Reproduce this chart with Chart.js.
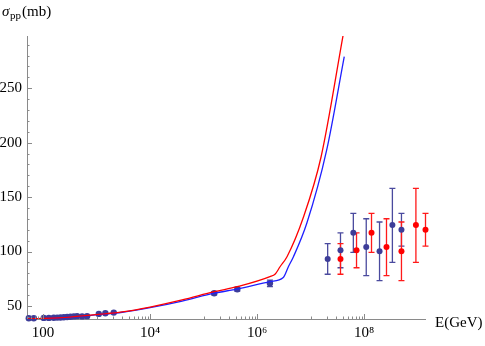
<!DOCTYPE html>
<html><head><meta charset="utf-8">
<script src="https://cdn.jsdelivr.net/npm/chart.js@4/dist/chart.umd.min.js"></script>
<style>html,body{margin:0;padding:0;background:#fff}#wrap{width:485px;height:346px}</style>
</head><body><div id="wrap"><canvas id="c" width="485" height="346"></canvas></div>
<script>
// Model curves (E in GeV, sigma in mb)
const redCurveE     = [50, 100, 316, 1072, 3020, 1.0e4, 3.98e4, 1.58e5, 4.27e5, 1.74e6, 2.19e6, 2.69e6, 3.63e6, 7.41e6, 1.58e7, 4.07e7];
const redCurveSigma = [38.1, 38.5, 39.8, 42.2, 44.5, 49.0, 55.5, 63.1, 67.7, 76.9, 79.4, 86.0, 95.2, 131.9, 187.3, 298.9];
const blueCurveE     = [50, 100, 316, 1072, 3020, 1.0e4, 3.98e4, 1.58e5, 4.27e5, 1.74e6, 3.09e6, 3.85e6, 4.79e6, 8.51e6, 2.0e7, 4.27e7];
const blueCurveSigma = [38.1, 38.3, 39.6, 42.0, 44.2, 48.4, 54.5, 61.7, 65.5, 72.3, 76.1, 86.0, 95.2, 125.9, 193.1, 279.1];

// Accelerator data (blue)
const accE     = [54, 67, 103, 128, 158, 183, 211, 244, 281, 324, 375, 432, 536, 664, 1099, 1459, 2094, 1.58e5, 4.27e5, 1.74e6];
const accSigma = [38.7, 38.7, 39.0, 39.0, 39.2, 39.3, 39.4, 39.6, 39.9, 40.1, 40.4, 40.6, 40.4, 40.6, 42.7, 43.3, 43.9, 61.7, 65.3, 70.8];
const accErr   = [0, 0, 0, 0, 0, 0, 0, 0, 0, 0, 0, 0, 0, 0, 0, 0, 0, 1.5, 1.7, 3.0];

// Cosmic-ray data, blue set
const crBlueE     = [2.09e7, 3.63e7, 6.31e7, 1.10e8, 1.95e8, 3.39e8, 5.01e8];
const crBlueSigma = [93.1, 101.1, 117.2, 104.1, 100.2, 124.3, 120.0];
const crBlueLo    = [79.1, 85.1, 99.3, 77.8, 73.2, 90.1, 105.0];
const crBlueHi    = [107.2, 117.2, 135.0, 130.1, 127.1, 158.0, 135.0];
// Cosmic-ray data, red set
const crRedE     = [3.63e7, 7.24e7, 1.38e8, 2.63e8, 5.01e8, 9.33e8, 1.41e9];
const crRedSigma = [93.1, 101.1, 117.2, 104.1, 100.2, 124.3, 120.0];
const crRedLo    = [79.1, 85.1, 99.3, 77.8, 73.2, 90.1, 105.0];
const crRedHi    = [107.2, 117.2, 135.0, 130.1, 127.1, 158.0, 135.0];

// Axis ticks
const xMajorTicks  = [100, 1e4, 1e6, 1e8];
const xMajorLabels = ['100', '10\u2074', '10\u2076', '10\u2078'];
const xMinorTicks  = [50, 60, 70, 80, 90,
  1e3, 2e3, 3e3, 4e3, 5e3, 6e3, 7e3, 8e3, 9e3,
  1e5, 2e5, 3e5, 4e5, 5e5, 6e5, 7e5, 8e5, 9e5,
  1e7, 2e7, 3e7, 4e7, 5e7, 6e7, 7e7, 8e7, 9e7];
const yMajorTicks = [50, 100, 150, 200, 250];
const yMinorTicks = [40, 60, 70, 80, 90, 110, 120, 130, 140, 160, 170, 180, 190, 210, 220, 230, 240, 260, 270, 280, 290];

const AXIS = '#8a8a8a';
const BLUE_PT = '#3d3d99';
const RED_PT = '#ff0000';
const SERIF = '"Liberation Serif", "Times New Roman", serif';

const zip = (xs, ys) => xs.map((x, i) => ({x, y: ys[i]}));

const extrasPlugin = {
  id: 'extras',
  beforeDatasetsDraw(chart) {
    const ctx = chart.ctx, xs = chart.scales.x, ys = chart.scales.y;
    const bars = (E, lo, hi, color) => {
      ctx.save();
      ctx.strokeStyle = color; ctx.lineWidth = 1.3;
      E.forEach((e, i) => {
        if (lo[i] === hi[i]) return;
        const px = xs.getPixelForValue(e);
        const p1 = ys.getPixelForValue(lo[i]), p2 = ys.getPixelForValue(hi[i]);
        ctx.beginPath();
        ctx.moveTo(px, p1); ctx.lineTo(px, p2);
        ctx.moveTo(px - 3, p1); ctx.lineTo(px + 3, p1);
        ctx.moveTo(px - 3, p2); ctx.lineTo(px + 3, p2);
        ctx.stroke();
      });
      ctx.restore();
    };
    bars(accE, accSigma.map((s, i) => s - accErr[i]), accSigma.map((s, i) => s + accErr[i]), '#4a4a9e');
    bars(crBlueE, crBlueLo, crBlueHi, '#4a4a9e');
    bars(crRedE, crRedLo, crRedHi, '#ff1a1a');
  },
  afterDraw(chart) {
    const ctx = chart.ctx, xs = chart.scales.x, ys = chart.scales.y, a = chart.chartArea;
    ctx.save();
    ctx.strokeStyle = AXIS; ctx.lineWidth = 1;
    ctx.beginPath();
    xMajorTicks.forEach(v => { const p = Math.round(xs.getPixelForValue(v)) + 0.5; ctx.moveTo(p, a.bottom); ctx.lineTo(p, a.bottom - 5); });
    xMinorTicks.forEach(v => { const p = Math.round(xs.getPixelForValue(v)) + 0.5; ctx.moveTo(p, a.bottom); ctx.lineTo(p, a.bottom - 2.5); });
    yMajorTicks.forEach(v => { const p = Math.round(ys.getPixelForValue(v)) + 0.5; ctx.moveTo(a.left, p); ctx.lineTo(a.left + 5, p); });
    yMinorTicks.forEach(v => { const p = Math.round(ys.getPixelForValue(v)) + 0.5; ctx.moveTo(a.left, p); ctx.lineTo(a.left + 2.5, p); });
    ctx.stroke();
    // axis titles
    ctx.fillStyle = '#000';
    ctx.textBaseline = 'alphabetic';
    ctx.textAlign = 'left';
    ctx.font = '15px ' + SERIF;
    ctx.fillText('E(GeV)', a.right + 10, a.bottom + 8);
    ctx.font = 'italic 15px ' + SERIF;
    ctx.fillText('\u03C3', 2, 16);
    ctx.font = '11px ' + SERIF;
    ctx.fillText('pp', 10, 19);
    ctx.font = '15px ' + SERIF;
    ctx.fillText('(mb)', 22, 16);
    ctx.restore();
  }
};

new Chart(document.getElementById('c'), {
  type: 'scatter',
  data: {
    datasets: [
      { label: 'model red', data: zip(redCurveE, redCurveSigma), showLine: true, borderColor: '#ff0000', borderWidth: 1.3,
        pointRadius: 0, cubicInterpolationMode: 'monotone', fill: false, order: 0 },
      { label: 'model blue', data: zip(blueCurveE, blueCurveSigma), showLine: true, borderColor: '#1f1fff', borderWidth: 1.3,
        pointRadius: 0, cubicInterpolationMode: 'monotone', fill: false, order: 0 },
      { label: 'accelerator', data: zip(accE, accSigma), pointRadius: 3.2, pointBackgroundColor: BLUE_PT, pointBorderWidth: 0, order: 2, clip: false },
      { label: 'cosmic blue', data: zip(crBlueE, crBlueSigma), pointRadius: 3, pointBackgroundColor: BLUE_PT, pointBorderWidth: 0, order: 2, clip: false },
      { label: 'cosmic red', data: zip(crRedE, crRedSigma), pointRadius: 3, pointBackgroundColor: RED_PT, pointBorderWidth: 0, order: 2, clip: false }
    ]
  },
  options: {
    responsive: false, devicePixelRatio: 1, animation: false,
    layout: { padding: { top: 36, right: 60, left: 0, bottom: 0 } },
    plugins: { legend: { display: false }, tooltip: { enabled: false } },
    scales: {
      x: {
        type: 'logarithmic', min: 50, max: 1.38e9,
        afterBuildTicks: s => { s.ticks = xMajorTicks.map(v => ({value: v})); },
        afterFit: s => { s.height = 27; },
        ticks: { autoSkip: false, maxRotation: 0, padding: 5, color: '#000',
                 font: { family: SERIF, size: 15 },
                 callback: v => { const i = xMajorTicks.indexOf(v); return i >= 0 ? xMajorLabels[i] : ''; } },
        grid: { drawOnChartArea: false, drawTicks: false, color: AXIS },
        border: { display: true, color: AXIS, width: 1 }
      },
      y: {
        type: 'linear', min: 38, max: 298,
        afterBuildTicks: s => { s.ticks = yMajorTicks.map(v => ({value: v})); },
        afterFit: s => { s.width = 27; },
        ticks: { autoSkip: false, padding: 5, color: '#000', font: { family: SERIF, size: 15 } },
        grid: { drawOnChartArea: false, drawTicks: false, color: AXIS },
        border: { display: true, color: AXIS, width: 1 }
      }
    }
  },
  plugins: [extrasPlugin]
});
</script></body></html>
